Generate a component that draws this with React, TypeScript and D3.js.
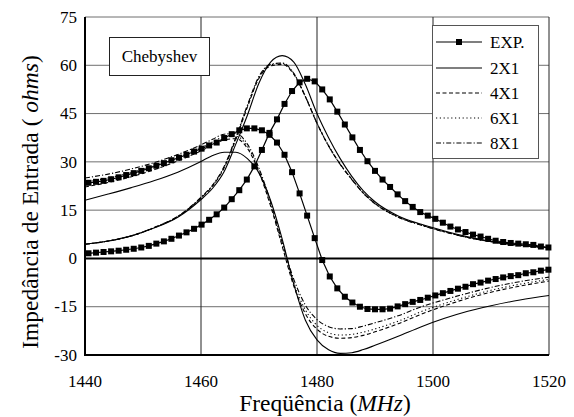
import React from "react";
import * as d3 from "d3";

const X_TICKS = [1440, 1460, 1480, 1500, 1520];
const Y_TICKS = [-30, -15, 0, 15, 30, 45, 60, 75];

const EXP_FREQ = [1440.6, 1441.9, 1443.2, 1444.5, 1445.8, 1447.1, 1448.4, 1449.7, 1451.0, 1452.3, 1453.6, 1454.9, 1456.2, 1457.5, 1458.8, 1460.1, 1461.4, 1462.7, 1464.0, 1465.3, 1466.6, 1467.9, 1469.2, 1470.5, 1471.8, 1473.1, 1474.4, 1475.7, 1477.0, 1478.3, 1479.6, 1480.9, 1482.2, 1483.5, 1484.8, 1486.1, 1487.4, 1488.7, 1490.0, 1491.3, 1492.6, 1493.9, 1495.2, 1496.5, 1497.8, 1499.1, 1500.4, 1501.7, 1503.0, 1504.3, 1505.6, 1506.9, 1508.2, 1509.5, 1510.8, 1512.1, 1513.4, 1514.7, 1516.0, 1517.3, 1518.6, 1519.9];
const EXP_RE = [1.6, 1.8, 2.0, 2.2, 2.4, 2.7, 3.0, 3.4, 3.9, 4.6, 5.3, 6.1, 7.1, 8.1, 9.2, 10.5, 12.0, 13.7, 15.8, 18.4, 21.2, 24.5, 28.6, 33.7, 39.0, 43.2, 48.0, 52.0, 54.7, 55.8, 55.0, 52.5, 49.4, 45.6, 41.6, 37.6, 33.7, 30.2, 27.2, 24.5, 22.2, 19.9, 17.8, 16.0, 14.4, 13.3, 12.3, 11.1, 9.9, 9.0, 8.2, 7.4, 6.8, 6.1, 5.5, 5.1, 4.8, 4.6, 4.4, 4.2, 3.7, 3.4];
const EXP_IM = [23.5, 23.8, 24.1, 24.6, 25.2, 25.9, 26.5, 27.2, 28.0, 28.8, 29.6, 30.5, 31.3, 32.2, 33.2, 34.1, 35.1, 36.0, 37.4, 38.6, 39.8, 40.4, 40.4, 39.8, 38.4, 36.0, 32.2, 26.8, 20.2, 13.3, 6.3, -0.5, -5.6, -9.3, -11.9, -13.7, -15.0, -15.7, -15.8, -15.8, -15.6, -14.9, -14.2, -13.5, -12.9, -12.2, -11.5, -10.8, -10.1, -9.4, -8.8, -8.0, -7.5, -6.9, -6.4, -5.9, -5.5, -5.2, -4.6, -4.3, -3.8, -3.5];

const SIM_FREQ = [1440, 1444, 1448, 1452, 1456, 1460, 1462, 1464, 1466, 1468, 1470, 1472, 1474, 1476, 1478, 1480, 1482, 1484, 1486, 1488, 1490, 1494, 1498, 1502, 1506, 1510, 1515, 1520];
const RE_2X1 = [4.4, 5.4, 7.0, 9.5, 12.8, 18.3, 21.8, 27.0, 35.5, 44.5, 54.5, 61.0, 63.0, 61.0, 54.0, 45.0, 37.5, 31.0, 25.5, 21.0, 17.6, 13.2, 10.6, 8.5, 6.7, 5.3, 4.2, 3.3];
const RE_4X1 = [4.4, 5.4, 7.0, 9.6, 13.0, 18.8, 22.5, 28.2, 37.0, 47.0, 56.0, 59.8, 60.3, 57.2, 50.2, 42.0, 35.0, 29.3, 24.6, 20.3, 17.1, 12.9, 10.4, 8.3, 6.5, 5.2, 4.1, 3.3];
const RE_6X1 = [4.4, 5.4, 7.0, 9.6, 13.0, 18.8, 22.6, 28.4, 37.3, 47.3, 56.3, 60.1, 60.6, 57.4, 50.3, 42.1, 35.0, 29.3, 24.6, 20.3, 17.1, 12.9, 10.4, 8.3, 6.5, 5.2, 4.1, 3.3];
const RE_8X1 = [4.4, 5.4, 7.0, 9.7, 13.1, 19.0, 22.8, 28.6, 37.6, 47.6, 56.6, 60.3, 60.7, 57.5, 50.3, 42.0, 34.9, 29.2, 24.5, 20.2, 17.0, 12.8, 10.3, 8.2, 6.5, 5.2, 4.1, 3.3];
const IM_2X1 = [18.1, 20.0, 22.0, 24.2, 26.8, 30.1, 32.0, 33.0, 33.0, 31.0, 26.5, 18.0, 6.0, -8.0, -19.2, -25.3, -28.4, -29.5, -29.3, -28.3, -27.0, -24.2, -21.2, -18.6, -16.4, -14.7, -12.9, -11.5];
const IM_4X1 = [22.2, 23.6, 25.4, 27.6, 30.3, 33.4, 35.2, 36.8, 37.2, 34.2, 26.8, 16.3, 3.8, -8.6, -17.2, -22.0, -24.2, -24.8, -24.6, -23.9, -22.8, -20.3, -17.3, -14.7, -12.4, -10.5, -8.6, -7.0];
const IM_6X1 = [23.7, 25.0, 26.7, 28.8, 31.4, 34.4, 36.2, 37.8, 38.0, 34.8, 27.3, 16.8, 4.2, -7.8, -16.0, -20.8, -23.1, -23.8, -23.6, -22.9, -21.9, -19.5, -16.5, -14.0, -11.8, -9.9, -8.0, -6.5];
const IM_8X1 = [25.0, 26.2, 27.8, 29.8, 32.3, 35.3, 37.0, 38.6, 38.8, 35.5, 28.0, 17.5, 5.0, -6.5, -14.5, -19.0, -21.2, -21.9, -21.8, -21.0, -20.0, -17.8, -15.0, -12.8, -10.8, -9.0, -7.2, -5.8];

const LEGEND = ["EXP.", "2X1", "4X1", "6X1", "8X1"];
const DASHES = ["", "", "4,2.5", "1.2,2.6", "5,2,1.2,2"];

const FONT = '"Liberation Serif", "Times New Roman", Times, "DejaVu Serif", serif';

export default function App() {
  const x = d3.scaleLinear().domain([1440, 1520]).range([85, 549]);
  const y = d3.scaleLinear().domain([-30, 75]).range([355, 17]);

  const line = d3
    .line<[number, number]>()
    .x((d) => x(d[0]))
    .y((d) => y(d[1]))
    .curve(d3.curveMonotoneX);
  const lineLin = d3
    .line<[number, number]>()
    .x((d) => x(d[0]))
    .y((d) => y(d[1]));

  const sim = [
    { re: RE_2X1, im: IM_2X1, dash: DASHES[1] },
    { re: RE_4X1, im: IM_4X1, dash: DASHES[2] },
    { re: RE_6X1, im: IM_6X1, dash: DASHES[3] },
    { re: RE_8X1, im: IM_8X1, dash: DASHES[4] },
  ];
  const zip = (xs: number[], ys: number[]) =>
    xs.map((v, i) => [v, ys[i]] as [number, number]);

  const expRe = zip(EXP_FREQ, EXP_RE);
  const expIm = zip(EXP_FREQ, EXP_IM);

  const [x0, x1] = x.range();
  const [yb, yt] = y.range();
  const ts = { fontFamily: FONT };

  return (
    <svg
      width={574}
      height={417}
      style={{ position: "absolute", left: 0, top: 0, background: "#fff", fontFamily: FONT }}
    >
      <rect x={0} y={0} width={574} height={417} fill="#fff" />
      {Y_TICKS.filter((t) => t !== -30 && t !== 0).map((t) => (
        <line key={"h" + t} x1={x0} x2={x1} y1={y(t)} y2={y(t)} stroke="#6e6e6e" strokeWidth={1} />
      ))}
      {X_TICKS.filter((t) => t !== 1440).map((t) => (
        <line key={"v" + t} x1={x(t)} x2={x(t)} y1={yb} y2={yt} stroke="#222" strokeWidth={1} />
      ))}
      <line x1={x0} x2={x1} y1={y(0)} y2={y(0)} stroke="#000" strokeWidth={2} />

      {sim.map((s, i) => (
        <g key={"s" + i} fill="none" stroke="#000" strokeWidth={1.1} strokeDasharray={s.dash || undefined}>
          <path d={line(zip(SIM_FREQ, s.re)) || ""} />
          <path d={line(zip(SIM_FREQ, s.im)) || ""} />
        </g>
      ))}

      <g fill="none" stroke="#000" strokeWidth={1.2}>
        <path d={lineLin(expRe) || ""} />
        <path d={lineLin(expIm) || ""} />
      </g>
      <g fill="#000">
        {expRe.concat(expIm).map((d, i) => (
          <rect key={"m" + i} x={x(d[0]) - 3} y={y(d[1]) - 3} width={6} height={6} />
        ))}
      </g>

      <line x1={x0} x2={x0} y1={yb + 1} y2={yt} stroke="#000" strokeWidth={2} />
      <line x1={x0 - 1} x2={x1} y1={yb} y2={yb} stroke="#000" strokeWidth={2} />

      {Y_TICKS.map((t) => (
        <text key={"yl" + t} x={77} y={y(t)} dy="0.34em" textAnchor="end" fontSize={17} style={ts}>
          {t}
        </text>
      ))}
      {X_TICKS.map((t) => (
        <text key={"xl" + t} x={x(t)} y={387} textAnchor="middle" fontSize={17} style={ts}>
          {t}
        </text>
      ))}

      <text x={325} y={411} textAnchor="middle" fontSize={23.5} style={ts}>
        Freqüência (<tspan fontStyle="italic">MHz</tspan>)
      </text>
      <text transform="translate(38,202) rotate(-90)" textAnchor="middle" fontSize={23.5} style={ts}>
        Impedância de Entrada ( <tspan fontStyle="italic">ohms</tspan>)
      </text>

      <rect x={109.5} y={37.5} width={100} height={38} fill="#fff" stroke="#222" strokeWidth={1} />
      <text x={159.5} y={62} textAnchor="middle" fontSize={17} style={ts}>
        Chebyshev
      </text>

      <rect x={432.5} y={25.5} width={106} height={133} fill="#fff" stroke="#555" strokeWidth={1} />
      {LEGEND.map((name, i) => {
        const ly = [42, 68, 93, 118, 143][i];
        return (
          <g key={"lg" + i}>
            <line x1={436} x2={482} y1={ly} y2={ly} stroke="#000" strokeWidth={1.2} strokeDasharray={DASHES[i] || undefined} />
            {i === 0 && <rect x={456} y={ly - 3} width={6} height={6} fill="#000" />}
            <text x={490} y={ly + 6} fontSize={17} style={ts}>
              {name}
            </text>
          </g>
        );
      })}
    </svg>
  );
}
